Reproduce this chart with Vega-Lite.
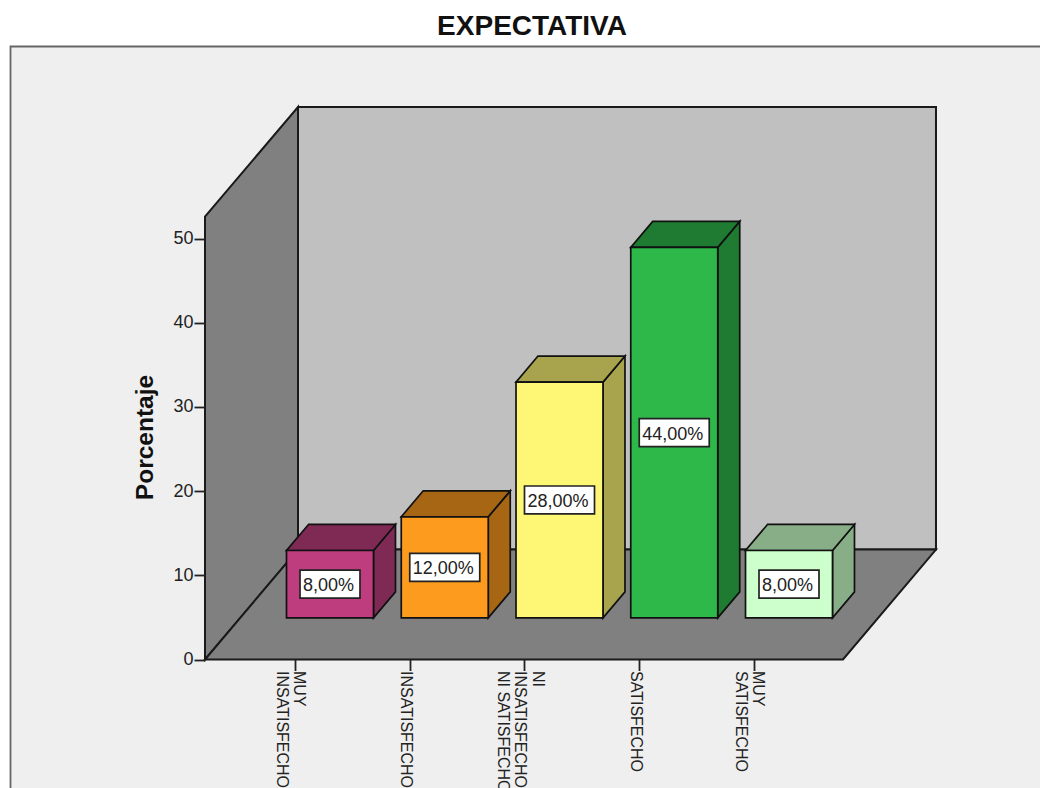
{
"$schema":"https://vega.github.io/schema/vega-lite/v6.json",
"width":1040,"height":788,"padding":0,"autosize":{"type":"none"},"background":"#ffffff",
"title":{"text":"EXPECTATIVA","anchor":"middle","frame":"group","dx":12,"dy":63,"offset":0,"baseline":"alphabetic","fontSize":28,"font":"Liberation Sans","fontWeight":"bold","color":"#111111"},
"config":{"view":{"stroke":null},"font":"Liberation Sans"},
"datasets":{
"barras":[
{"categoria":"MUY INSATISFECHO","orden":1,"porcentaje":8},
{"categoria":"INSATISFECHO","orden":2,"porcentaje":12},
{"categoria":"NI INSATISFECHO NI SATISFECHO","orden":3,"porcentaje":28},
{"categoria":"SATISFECHO","orden":4,"porcentaje":44},
{"categoria":"MUY SATISFECHO","orden":5,"porcentaje":8}],
"marco":[{"x":-1.4793,"x2":7.7,"y":72.81,"y2":-17}],
"pared_fondo":[{"x":1.0261,"x2":6.586,"y":13.06,"y2":65.62}],
"pared_izq":[{"x":0.2157,"y":0,"y2":52.6},{"x":1.0261,"y":13.06,"y2":65.62}],
"suelo":[{"x":0.2157,"x2":5.7756,"y":0},{"x":1.0261,"x2":6.586,"y":13.06}]
},
"layer":[
{"data":{"name":"marco"},"mark":{"type":"rect","fill":"#efefef","stroke":"#666666","strokeWidth":1.8,"clip":false},
"encoding":{
"x":{"field":"x","type":"quantitative","scale":{"domain":[-1.5708,7.4924],"nice":false,"zero":false},
"axis":{"orient":"bottom","offset":-128.5,"zindex":1,"values":[1,2,3,4,5],"title":null,"grid":false,"domain":false,"tickSize":11,"tickWidth":1.8,"tickColor":"#222222","labelAngle":90,"labelAlign":"left","labelBaseline":"middle","labelPadding":0,"labelFont":"Liberation Sans","labelFontSize":16,"labelColor":"#222222","labelLineHeight":17.5,"labelOverlap":false,"labelBound":false,"labelFlush":false,
"labelExpr":"[['MUY','INSATISFECHO'],['INSATISFECHO'],['NI','INSATISFECHO','NI SATISFECHO'],['SATISFECHO'],['MUY','SATISFECHO']][datum.value-1]",
"encoding":{"labels":{"dy":{"value":{"expr":"datum.value==3?-13:((datum.value==1||datum.value==5)?-4:4)"}}}}}},
"x2":{"field":"x2"},
"y":{"field":"y","type":"quantitative","scale":{"domain":[-15.26,78.33],"nice":false,"zero":false},
"axis":{"orient":"left","offset":-205,"zindex":1,"values":[0,10,20,30,40,50],"title":"Porcentaje","titleX":-48,"titleY":437,"titleAngle":-90,"titleFontSize":24.5,"titleFont":"Liberation Sans","titleFontWeight":"bold","titleColor":"#111111","titleAlign":"center","grid":false,"domain":false,"tickSize":11,"tickWidth":1.8,"tickColor":"#222222","labelFontSize":18,"labelFont":"Liberation Sans","labelColor":"#222222","labelPadding":1,"labelOverlap":false,"labelBound":false}},
"y2":{"field":"y2"}}},
{"data":{"name":"pared_fondo"},"mark":{"type":"rect","fill":"#c0c0c0","stroke":"#1a1a1a","strokeWidth":2},
"encoding":{"x":{"field":"x","type":"quantitative"},"x2":{"field":"x2"},"y":{"field":"y","type":"quantitative"},"y2":{"field":"y2"}}},
{"data":{"name":"pared_izq"},"mark":{"type":"area","orient":"vertical","fill":"#808080","stroke":"#1a1a1a","strokeWidth":2},
"encoding":{"x":{"field":"x","type":"quantitative"},"y":{"field":"y","type":"quantitative"},"y2":{"field":"y2"}}},
{"data":{"name":"suelo"},"mark":{"type":"area","orient":"horizontal","fill":"#808080","stroke":"#1a1a1a","strokeWidth":2},
"encoding":{"y":{"field":"y","type":"quantitative"},"x":{"field":"x","type":"quantitative"},"x2":{"field":"x2"}}},
{"data":{"name":"barras"},
"transform":[{"calculate":"[0,1]","as":"t"},{"flatten":["t"]},
{"calculate":"datum.orden+0.305+0.379+datum.t*0.1917","as":"xa"},
{"calculate":"4.95+datum.t*3.09","as":"ya"},
{"calculate":"4.95+datum.porcentaje+datum.t*3.09","as":"yb"}],
"mark":{"type":"area","orient":"vertical","stroke":"#111111","strokeWidth":1.7},
"encoding":{"x":{"field":"xa","type":"quantitative"},"y":{"field":"ya","type":"quantitative"},"y2":{"field":"yb"},"detail":{"field":"categoria"},
"fill":{"field":"categoria","type":"nominal","legend":null,"scale":{"domain":["MUY INSATISFECHO","INSATISFECHO","NI INSATISFECHO NI SATISFECHO","SATISFECHO","MUY SATISFECHO","s1","s2","s3","s4","s5"],"range":["#7e2a55","#a76614","#a8a44d","#1f7b32","#88ae88","#be3d7f","#fc9b1e","#fdf775","#2eb84a","#ccffcc"]}}}},
{"data":{"name":"barras"},
"transform":[{"calculate":"[0,1]","as":"t"},{"flatten":["t"]},
{"calculate":"datum.orden+0.305-0.379+datum.t*0.1917","as":"xa"},
{"calculate":"datum.orden+0.305+0.379+datum.t*0.1917","as":"xb"},
{"calculate":"4.95+datum.porcentaje+datum.t*3.09","as":"ya"}],
"mark":{"type":"area","orient":"horizontal","stroke":"#111111","strokeWidth":1.7},
"encoding":{"y":{"field":"ya","type":"quantitative"},"x":{"field":"xa","type":"quantitative"},"x2":{"field":"xb"},"detail":{"field":"categoria"},
"fill":{"field":"categoria","type":"nominal","legend":null}}},
{"data":{"name":"barras"},
"transform":[
{"calculate":"'s'+datum.orden","as":"clave"},
{"calculate":"datum.orden+0.305-0.379","as":"xa"},
{"calculate":"datum.orden+0.305+0.379","as":"xb"},
{"calculate":"4.95","as":"ya"},
{"calculate":"4.95+datum.porcentaje","as":"yb"}],
"mark":{"type":"rect","stroke":"#111111","strokeWidth":1.7},
"encoding":{"x":{"field":"xa","type":"quantitative"},"x2":{"field":"xb"},"y":{"field":"ya","type":"quantitative"},"y2":{"field":"yb"},
"fill":{"field":"clave","type":"nominal","legend":null}}},
{"data":{"name":"barras"},
"transform":[
{"calculate":"datum.orden+0.305-(0.2614+(datum.porcentaje>=10?0.0436:0))","as":"xa"},
{"calculate":"datum.orden+0.305+(0.2614+(datum.porcentaje>=10?0.0436:0))","as":"xb"},
{"calculate":"4.95+datum.porcentaje/2-1.66","as":"ya"},
{"calculate":"4.95+datum.porcentaje/2+1.66","as":"yb"}],
"mark":{"type":"rect","fill":"#ffffff","stroke":"#222222","strokeWidth":1.7},
"encoding":{"x":{"field":"xa","type":"quantitative"},"x2":{"field":"xb"},"y":{"field":"ya","type":"quantitative"},"y2":{"field":"yb"}}},
{"data":{"name":"barras"},
"transform":[
{"calculate":"replace(format(datum.porcentaje,'.2f'),'.',',')+'%'","as":"etiqueta"},
{"calculate":"datum.orden+0.305","as":"xa"},
{"calculate":"4.95+datum.porcentaje/2","as":"ya"}],
"mark":{"type":"text","font":"Liberation Sans","fontSize":18,"color":"#222222","align":"center","baseline":"middle","dy":2,"dx":-1.5},
"encoding":{"x":{"field":"xa","type":"quantitative"},"y":{"field":"ya","type":"quantitative"},"text":{"field":"etiqueta"}}}
]
}
